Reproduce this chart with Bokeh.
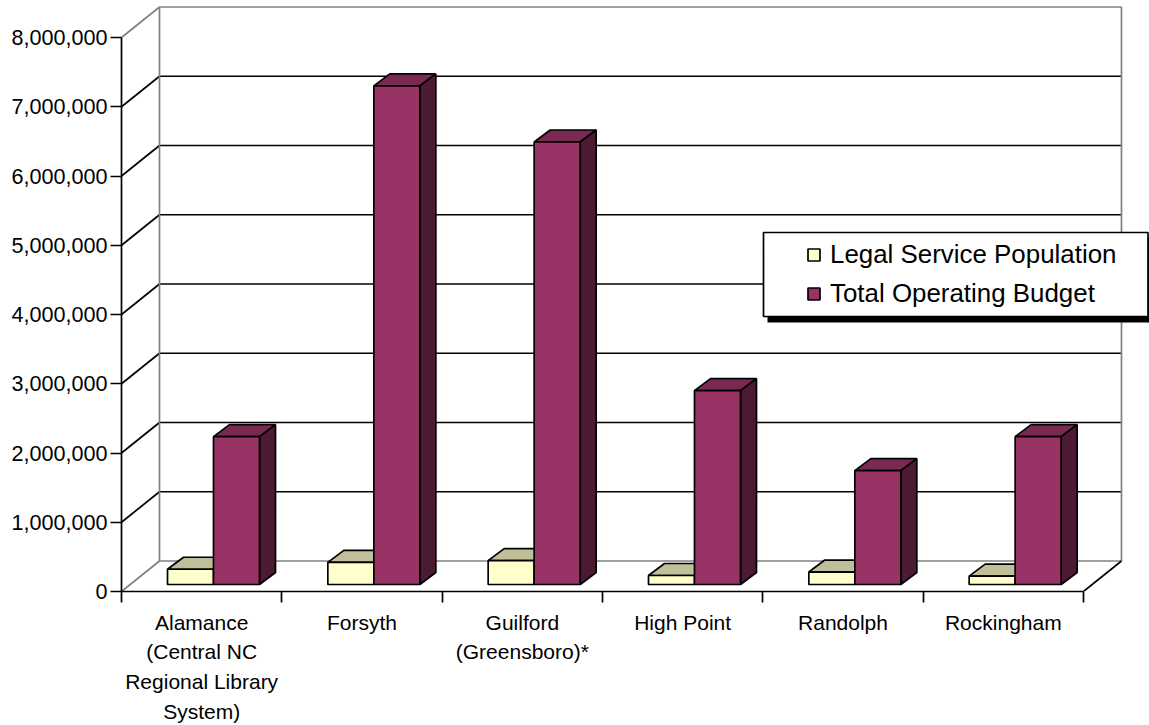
from bokeh.plotting import figure
from bokeh.embed import file_html
from bokeh.resources import INLINE
from bokeh.models import (Range1d, FixedTicker, NumeralTickFormatter, LinearAxis,
                          BoxAnnotation, Legend, LegendItem)

# ---- chart data ----
categories = ["Alamance\n(Central NC\nRegional Library\nSystem)", "Forsyth",
              "Guilford\n(Greensboro)*", "High Point", "Randolph", "Rockingham"]
population = [220000, 320000, 345000, 130000, 180000, 120000]
budget = [2135000, 7200000, 6390000, 2800000, 1645000, 2135000]
value_ticks = [0, 1000000, 2000000, 3000000, 4000000, 5000000, 6000000, 7000000, 8000000]
series_names = ["Legal Service Population", "Total Operating Budget"]

# ---- geometry of the oblique projection ----
PX_X = 160.33            # pixels per category
PX_Y = 69.25 / 1e6       # pixels per value unit
FRAME_L, FRAME_B, FRAME_T = 121, 591, 0
WIN_W, WIN_H = 1149, 725
WALL_DX, WALL_DY = 38 / PX_X, 30.5 / PX_Y
BAR_DX, BAR_DY = 16 / PX_X, 12 / PX_Y
BAR_W = 46 / PX_X
BAR_X0 = 46 / PX_X
BASE = 7 / PX_Y
N = len(categories)
TOP = value_ticks[-1]

BLACK, GRAY = "#000000", "#808080"
LW = 1.7
FONT = "Liberation Sans"

p = figure(width=WIN_W, height=WIN_H, output_backend="svg", toolbar_location=None,
           x_axis_type=None, y_axis_type=None,
           frame_width=WIN_W - FRAME_L, frame_height=FRAME_B - FRAME_T,
           x_range=Range1d(0, (WIN_W - FRAME_L) / PX_X),
           y_range=Range1d(0, (FRAME_B - FRAME_T) / PX_Y),
           min_border_left=FRAME_L, min_border_right=0, min_border_top=FRAME_T,
           min_border_bottom=WIN_H - FRAME_B, outline_line_color=None,
           background_fill_color="white", border_fill_color="white")
p.grid.visible = False

# value axis
yax = LinearAxis(ticker=FixedTicker(ticks=value_ticks), bounds=(0, TOP),
                 formatter=NumeralTickFormatter(format="0,0"))
yax.axis_line_color = BLACK
yax.axis_line_width = LW
yax.major_tick_line_color = BLACK
yax.major_tick_line_width = LW
yax.major_tick_out = 11
yax.major_tick_in = 0
yax.minor_tick_line_color = None
yax.major_label_standoff = 3
yax.major_label_text_font = FONT
yax.major_label_text_font_size = "21.6px"
yax.major_label_text_color = BLACK
p.add_layout(yax, "left")

# category axis
centers = [i + 0.5 for i in range(N)]
edges = list(range(N + 1))
xax = LinearAxis(ticker=FixedTicker(ticks=centers, minor_ticks=edges), bounds=(0, N))
xax.major_label_overrides = {c: lab for c, lab in zip(centers, categories)}
xax.axis_line_color = BLACK
xax.axis_line_width = LW
xax.major_tick_line_color = None
xax.minor_tick_line_color = BLACK
xax.minor_tick_line_width = LW
xax.minor_tick_out = 11
xax.minor_tick_in = 0
xax.major_tick_out = 11
xax.major_tick_in = 0
xax.major_label_standoff = 8
xax.major_label_text_font = FONT
xax.major_label_text_font_size = "21px"
xax.major_label_text_color = BLACK
xax.major_label_text_line_height = 1.3
p.add_layout(xax, "below")

# walls: gridlines on the back wall and the left side wall
grid = value_ticks[1:-1]
p.segment(x0=[0] * len(grid), y0=grid, x1=[WALL_DX] * len(grid), y1=[v + WALL_DY for v in grid],
          line_color=BLACK, line_width=LW)
p.segment(x0=[WALL_DX] * len(grid), y0=[v + WALL_DY for v in grid],
          x1=[N + WALL_DX] * len(grid), y1=[v + WALL_DY for v in grid],
          line_color=BLACK, line_width=LW)
# frame of the walls and the floor
p.segment(x0=[0, 0, WALL_DX, WALL_DX, WALL_DX, N + WALL_DX],
          y0=[0, TOP, WALL_DY, TOP + WALL_DY, WALL_DY, WALL_DY],
          x1=[WALL_DX, WALL_DX, WALL_DX, N + WALL_DX, N + WALL_DX, N + WALL_DX],
          y1=[WALL_DY, TOP + WALL_DY, TOP + WALL_DY, TOP + WALL_DY, WALL_DY, TOP + WALL_DY],
          line_color=GRAY, line_width=LW)
p.segment(x0=[N], y0=[0], x1=[N + WALL_DX], y1=[WALL_DY], line_color=BLACK, line_width=LW)


def bars(values, slot, front, top, side):
    x0 = [i + BAR_X0 + slot * BAR_W for i in range(N)]
    x1 = [x + BAR_W for x in x0]
    y1 = [BASE + v for v in values]
    y0 = [BASE] * N
    p.patches(xs=[[a, a + BAR_DX, b + BAR_DX, b] for a, b in zip(x0, x1)],
              ys=[[y, y + BAR_DY, y + BAR_DY, y] for y in y1],
              fill_color=top, line_color=BLACK, line_width=LW)
    p.patches(xs=[[b, b + BAR_DX, b + BAR_DX, b] for b in x1],
              ys=[[y, y + BAR_DY, t + BAR_DY, t] for y, t in zip(y0, y1)],
              fill_color=side, line_color=BLACK, line_width=LW)
    return p.quad(left=x0, right=x1, bottom=y0, top=y1,
                  fill_color=front, line_color=BLACK, line_width=LW)


r_pop = bars(population, 0, "#FFFFCC", "#BFBF99", "#808066")
r_bud = bars(budget, 1, "#993366", "#7A2952", "#4D1A33")

# legend: shadow, box, then the legend itself
# (screen units: x from the frame's left edge, y upward from the frame's bottom edge)
scr = dict(left_units="screen", right_units="screen", top_units="screen", bottom_units="screen")
p.add_layout(BoxAnnotation(left=767 - FRAME_L, right=WIN_W - FRAME_L,
                           top=FRAME_B - 236, bottom=FRAME_B - 322,
                           fill_color=BLACK, fill_alpha=1, line_color=None, **scr))
p.add_layout(BoxAnnotation(left=763 - FRAME_L, right=1147.5 - FRAME_L,
                           top=FRAME_B - 232, bottom=FRAME_B - 316,
                           fill_color="white", fill_alpha=1, line_color=BLACK, line_alpha=1,
                           line_width=LW, **scr))
legend = Legend(items=[LegendItem(label=series_names[0], renderers=[r_pop]),
                       LegendItem(label=series_names[1], renderers=[r_bud])],
                location=(806 - FRAME_L, FRAME_B - 308), orientation="vertical",
                background_fill_alpha=0, border_line_color=None, padding=0, margin=0,
                spacing=10, glyph_width=15, glyph_height=15, label_standoff=9,
                label_text_font=FONT, label_text_font_size="25.9px", label_text_color=BLACK,
                label_height=26)
p.add_layout(legend, "center")

open("out.html", "w").write(file_html(p, INLINE))
